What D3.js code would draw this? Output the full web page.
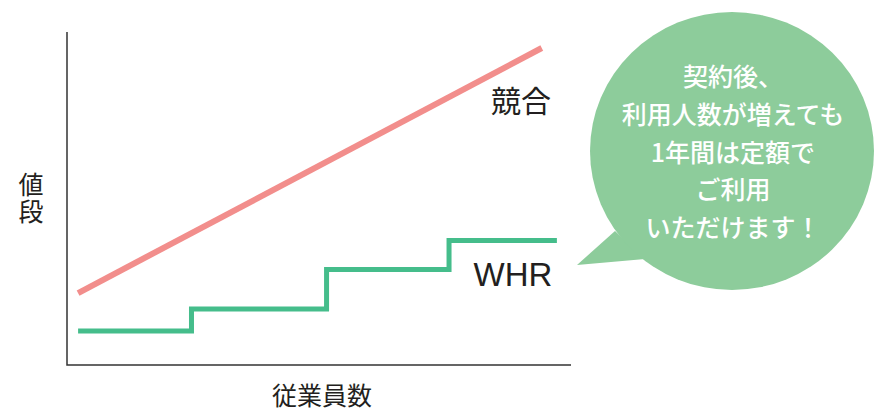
<!DOCTYPE html>
<html>
<head>
<meta charset="utf-8">
<script src="https://cdn.jsdelivr.net/npm/d3@7"></script>
<style>
  body { margin: 0; background: #fff; }
  svg { display: block; font-family: "Noto Sans CJK JP", "Noto Sans", sans-serif; }
</style>
</head>
<body>
<svg width="874" height="417"></svg>
<script>
// series values (relative units, 0-100 on both axes)
const competitorX = [2.2, 94.2];
const competitorY = [21.6, 95.2];
const whrX = [2.2, 24.7, 51.5, 75.8, 97.2];
const whrY = [10.2, 16.8, 28.7, 37.4, 37.4];

// labels
const seriesLabels = ["競合", "WHR"];
const yTitle = "値段";
const xTitle = "従業員数";
const bubbleLines = ["契約後、", "利用人数が増えても", "1年間は定額で", "ご利用", "いただけます！"];

const width = 874, height = 417;
const margin = { top: 32, right: 303, bottom: 52, left: 67 };

const svg = d3.select("svg");

const xScale = d3.scaleLinear()
    .domain([0, 100])
    .range([margin.left, width - margin.right]);

const yScale = d3.scaleLinear()
    .domain([0, 100])
    .range([height - margin.bottom, margin.top]);

// axes (plain lines, no ticks)
svg.append("path")
    .attr("d", `M${xScale(0)},${yScale(100)}V${yScale(0)}H${xScale(100)}`)
    .attr("fill", "none")
    .attr("stroke", "#333")
    .attr("stroke-width", 1.5);

// competitor line
const line = d3.line()
    .x(d => xScale(d[0]))
    .y(d => yScale(d[1]));

svg.append("path")
    .datum(d3.zip(competitorX, competitorY))
    .attr("fill", "none")
    .attr("stroke", "#f28e8c")
    .attr("stroke-width", 6)
    .attr("d", line);

// WHR step line
const stepLine = d3.line()
    .curve(d3.curveStepAfter)
    .x(d => xScale(d[0]))
    .y(d => yScale(d[1]));

svg.append("path")
    .datum(d3.zip(whrX, whrY))
    .attr("fill", "none")
    .attr("stroke", "#45bd8b")
    .attr("stroke-width", 5)
    .attr("d", stepLine);

// series labels
svg.append("text")
    .attr("x", 521).attr("y", 112)
    .attr("text-anchor", "middle")
    .attr("font-size", 30)
    .attr("fill", "#231f20")
    .text(seriesLabels[0]);

svg.append("text")
    .attr("x", 513).attr("y", 286)
    .attr("text-anchor", "middle")
    .attr("font-family", "Liberation Sans, Arial, sans-serif")
    .attr("font-size", 33)
    .attr("fill", "#231f20")
    .text(seriesLabels[1]);

// axis titles
svg.append("text")
    .attr("x", 31).attr("y", 172)
    .attr("writing-mode", "vertical-rl")
    .attr("font-size", 25)
    .attr("letter-spacing", 2)
    .attr("fill", "#231f20")
    .text(yTitle);

svg.append("text")
    .attr("x", 322).attr("y", 405)
    .attr("text-anchor", "middle")
    .attr("font-size", 25)
    .attr("fill", "#231f20")
    .text(xTitle);

// speech bubble
const bubble = svg.append("g");
bubble.append("path")
    .attr("d", "M615,231 L577,265 L645,259 Z")
    .attr("fill", "#8dcc9b");
bubble.append("ellipse")
    .attr("cx", 732).attr("cy", 151)
    .attr("rx", 142).attr("ry", 139)
    .attr("fill", "#8dcc9b");

bubble.selectAll("text")
    .data(bubbleLines)
    .join("text")
    .attr("x", 733)
    .attr("y", (d, i) => 86 + i * 37.8)
    .attr("text-anchor", "middle")
    .attr("font-size", 25)
    .attr("font-weight", 500)
    .attr("fill", "#fff")
    .text(d => d);
</script>
</body>
</html>
